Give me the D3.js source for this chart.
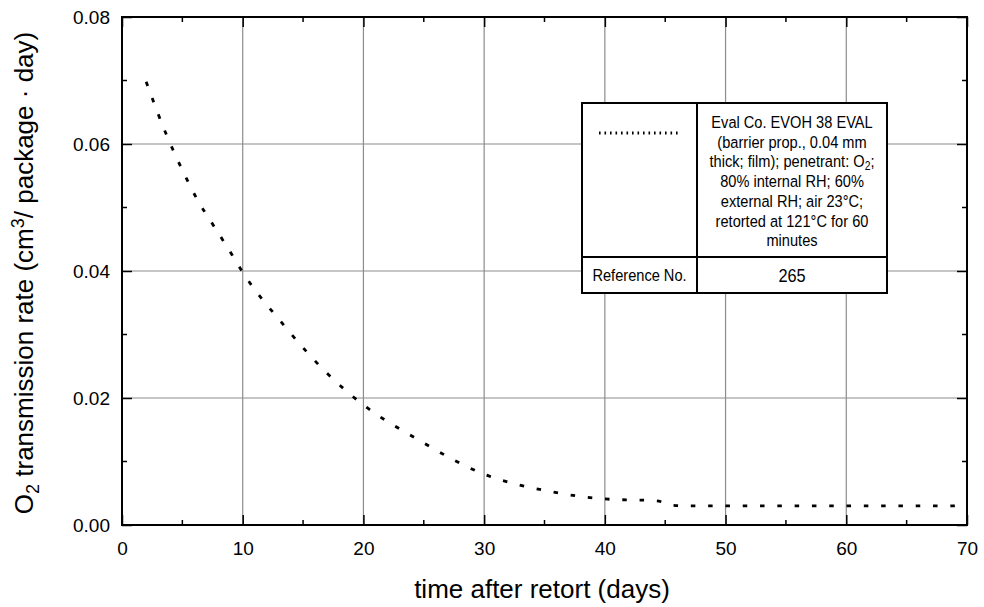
<!DOCTYPE html>
<html>
<head>
<meta charset="utf-8">
<script src="https://cdn.jsdelivr.net/npm/d3@7"></script>
<style>
  body { margin: 0; background: #fff; }
  svg text { font-family: Arial, "Liberation Sans", sans-serif; fill: #000; }
</style>
</head>
<body>
<svg id="chart" width="984" height="607"></svg>
<script>
// values
var days = [2, 3.65, 4.95, 6.4, 7.3, 9.1, 10, 13.3, 17.2, 20, 24.3, 30, 35.7, 40, 44.3, 45.7, 47, 69];
var rate = [0.0698, 0.0616, 0.0561, 0.0507, 0.048, 0.0426, 0.0398, 0.0317, 0.0235, 0.0189, 0.0137, 0.0080, 0.0052, 0.0041, 0.0038, 0.0031, 0.0030, 0.0030];
var xTicks = [0, 10, 20, 30, 40, 50, 60, 70];
var yTicks = [0, 0.02, 0.04, 0.06, 0.08];
var xMinor = [5, 15, 25, 35, 45, 55, 65];
var yMinor = [0.01, 0.03, 0.05, 0.07];
var legendLines = ["Eval Co. EVOH 38 EVAL", "(barrier prop., 0.04 mm", "thick; film); penetrant: O|2|;",
                   "80% internal RH; 60%", "external RH; air 23\u00B0C;", "retorted at 121\u00B0C for 60", "minutes"];
var refLabel = "Reference No.";
var refNo = "265";

var NARROW = 0.86;

function buildScales() {
    let x = d3.scaleLinear().domain([0, 70]).range([122, 967]);
    let y = d3.scaleLinear().domain([0, 0.08]).range([525, 17]);
    return {x: x, y: y};
}

function drawGrid(svg, s) {
    let g = svg.append("g").attr("class", "grid")
        .attr("stroke", "#8c8c8c").attr("stroke-width", 1.2);
    g.selectAll("line.gx").data(xTicks.slice(1, -1)).enter().append("line")
        .attr("x1", d => s.x(d)).attr("x2", d => s.x(d))
        .attr("y1", s.y(0.08)).attr("y2", s.y(0));
    g.selectAll("line.gy").data(yTicks.slice(1, -1)).enter().append("line")
        .attr("y1", d => s.y(d)).attr("y2", d => s.y(d))
        .attr("x1", s.x(0)).attr("x2", s.x(70));
}

function drawAxes(svg, s) {
    // inward ticks on all four sides, major 10px, minor 5px
    let bottom = d3.axisBottom(s.x).tickValues(xTicks).tickSize(-10).tickFormat(d3.format("d"));
    let left = d3.axisLeft(s.y).tickValues(yTicks).tickSize(-10).tickFormat(d3.format(".2f"));

    let gx = svg.append("g").attr("transform", "translate(0,525)").call(bottom);
    let gy = svg.append("g").attr("transform", "translate(122,0)").call(left);
    for (let g of [gx, gy]) {
        g.select(".domain").remove();
        g.selectAll(".tick line").attr("stroke", "#000").attr("stroke-width", 1.5);
        g.selectAll(".tick text").style("font-size", "19px").attr("fill", "#000");
    }
    gx.selectAll(".tick text").attr("y", 30).attr("dy", 0);
    gy.selectAll(".tick text").attr("x", -12).attr("dy", "0.36em");

    let gt = svg.append("g").attr("transform", "translate(0,17)")
        .call(d3.axisTop(s.x).tickValues(xTicks).tickSize(-10).tickFormat(""));
    let gr = svg.append("g").attr("transform", "translate(967,0)")
        .call(d3.axisRight(s.y).tickValues(yTicks).tickSize(-10).tickFormat(""));
    for (let g of [gt, gr]) {
        g.select(".domain").remove();
        g.selectAll(".tick line").attr("stroke", "#000").attr("stroke-width", 1.5);
    }

    let m = svg.append("g").attr("stroke", "#000").attr("stroke-width", 1.5);
    m.selectAll("line.mb").data(xMinor).enter().append("line")
        .attr("x1", d => s.x(d)).attr("x2", d => s.x(d)).attr("y1", 525).attr("y2", 520);
    m.selectAll("line.mt").data(xMinor).enter().append("line")
        .attr("x1", d => s.x(d)).attr("x2", d => s.x(d)).attr("y1", 17).attr("y2", 22);
    m.selectAll("line.ml").data(yMinor).enter().append("line")
        .attr("y1", d => s.y(d)).attr("y2", d => s.y(d)).attr("x1", 122).attr("x2", 127);
    m.selectAll("line.mr").data(yMinor).enter().append("line")
        .attr("y1", d => s.y(d)).attr("y2", d => s.y(d)).attr("x1", 967).attr("x2", 962);

    svg.append("rect")
        .attr("x", 122).attr("y", 17).attr("width", 845).attr("height", 508)
        .attr("fill", "none").attr("stroke", "#000").attr("stroke-width", 2);
}

function drawTitles(svg) {
    svg.append("text")
        .attr("x", 542).attr("y", 598)
        .attr("text-anchor", "middle").style("font-size", "26px")
        .text("time after retort (days)");

    let t = svg.append("text")
        .attr("transform", "translate(33,273) rotate(-90)")
        .attr("text-anchor", "middle").style("font-size", "26px");
    t.append("tspan").text("O");
    t.append("tspan").attr("dy", 6).style("font-size", "18px").text("2");
    t.append("tspan").attr("dy", -6).text(" transmission rate (cm");
    t.append("tspan").attr("dy", -9).style("font-size", "18px").text("3");
    t.append("tspan").attr("dy", 9).text("/ package \u00B7 day)");
}

function drawSeries(svg, s) {
    let pts = days.map((d, i) => [d, rate[i]]);
    let line = d3.line()
        .x(d => s.x(d[0])).y(d => s.y(d[1]))
        .curve(d3.curveMonotoneX);
    svg.append("path")
        .datum(pts)
        .attr("d", line)
        .attr("fill", "none").attr("stroke", "#000")
        .attr("stroke-width", 2.8)
        .attr("stroke-dasharray", "4.5 12.8");
}

function narrowText(g, x, y, size, str) {
    return g.append("text")
        .attr("transform", "translate(" + x + "," + y + ") scale(" + NARROW + ",1)")
        .attr("text-anchor", "middle").style("font-size", size + "px")
        .text(str);
}

function drawLegend(svg) {
    let g = svg.append("g").attr("class", "legend");
    let left = 582, right = 887, mid = 697, top = 103, split = 257, bottom = 293;

    g.append("rect").attr("x", left).attr("y", top)
        .attr("width", right - left).attr("height", bottom - top)
        .attr("fill", "#fff").attr("stroke", "#000").attr("stroke-width", 2);
    g.append("line").attr("x1", mid).attr("x2", mid).attr("y1", top).attr("y2", bottom)
        .attr("stroke", "#000").attr("stroke-width", 2);
    g.append("line").attr("x1", left).attr("x2", right).attr("y1", split).attr("y2", split)
        .attr("stroke", "#000").attr("stroke-width", 2);

    g.append("line").attr("x1", 599).attr("x2", 681).attr("y1", 133).attr("y2", 133)
        .attr("stroke", "#000").attr("stroke-width", 3)
        .attr("stroke-dasharray", "1.6 3.9");

    let cx = (mid + right) / 2;
    legendLines.forEach((l, i) => {
        let parts = l.split("|");
        let t = narrowText(g, cx, 128 + i * 19.7, 17, parts[0]);
        if (parts.length > 1) {
            t.append("tspan").attr("dy", 3).style("font-size", "12px").text(parts[1]);
            t.append("tspan").attr("dy", -3).text(parts[2]);
        }
    });
    narrowText(g, (left + mid) / 2, 281, 17, refLabel);
    narrowText(g, cx, 282, 19, refNo);
}

document.addEventListener("DOMContentLoaded", () => {
    let svg = d3.select("#chart");
    let s = buildScales();
    drawGrid(svg, s);
    drawSeries(svg, s);
    drawAxes(svg, s);
    drawTitles(svg);
    drawLegend(svg);
});
</script>
</body>
</html>
